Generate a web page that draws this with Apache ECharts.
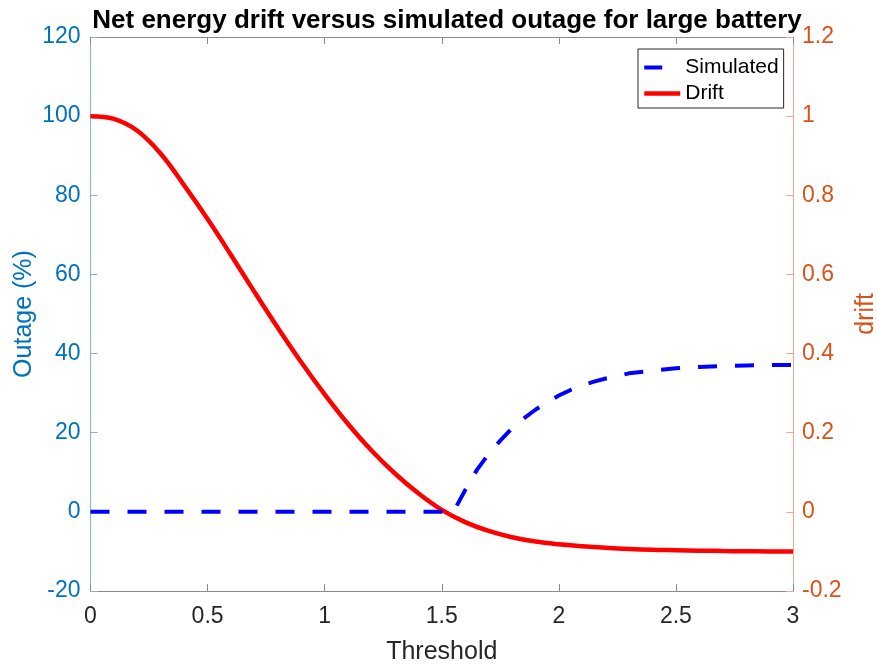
<!DOCTYPE html>
<html>
<head>
<meta charset="utf-8">
<script src="https://cdn.jsdelivr.net/npm/echarts@6/dist/echarts.min.js"></script>
<style>
  html, body { margin: 0; padding: 0; background: #fff; }
  #chart { width: 877px; height: 664px; }
</style>
</head>
<body>
<div id="chart"></div>
<script>
// Threshold grid and net energy drift (right axis)
const driftX = [0, 0.1, 0.2, 0.3, 0.4, 0.5, 0.6, 0.7, 0.8, 0.9, 1.0, 1.1, 1.2, 1.3, 1.4, 1.5,
                1.6, 1.7, 1.8, 1.9, 2.0, 2.1, 2.2, 2.3, 2.4, 2.5, 2.6, 2.7, 2.8, 2.9, 3.0];
const driftY = [1.0, 0.993, 0.963, 0.905, 0.825, 0.740, 0.649, 0.556, 0.465, 0.378, 0.297,
                0.222, 0.155, 0.097, 0.047, 0.005, -0.026, -0.048, -0.064, -0.075, -0.082,
                -0.087, -0.091, -0.094, -0.096, -0.097, -0.098, -0.099, -0.0995, -0.100, -0.100];

// Simulated outage in percent (left axis)
const outageX = [0, 0.5, 1.0, 1.5, 1.55, 1.6, 1.65, 1.7, 1.75, 1.8, 1.85, 1.9, 1.95, 2.0,
                 2.05, 2.1, 2.15, 2.2, 2.3, 2.4, 2.5, 2.6, 2.7, 2.8, 2.9, 3.0];
const outageY = [0, 0, 0, 0, 0, 5.5, 10.6, 14.6, 18.0, 21.1, 23.6, 25.8, 27.7, 29.4,
                 30.8, 32.0, 32.9, 33.7, 35.0, 35.7, 36.3, 36.6, 36.9, 37.0, 37.1, 37.1];

const titleText = 'Net energy drift versus simulated outage for large battery';
const xName = 'Threshold';
const leftName = 'Outage (%)';
const rightName = 'drift';

const FONT = '"Liberation Sans", Arial, Helvetica, sans-serif';
const BLUE_AX = '#0072BD';
const ORANGE_AX = '#D95319';
const DARK = '#262626';

const pairs = (xs, ys) => xs.map((x, i) => [x, ys[i]]);

const chart = echarts.init(document.getElementById('chart'), null, { renderer: 'canvas' });

chart.setOption({
  animation: false,
  backgroundColor: '#ffffff',
  title: {
    text: titleText,
    left: 442, top: 3,
    textAlign: 'center',
    textStyle: { fontFamily: FONT, fontWeight: 'bold', fontSize: 26, color: '#000' }
  },
  grid: { left: 90.5, right: 84, top: 37, bottom: 73, outerBoundsMode: 'none', containLabel: false },
  legend: {
    orient: 'vertical',
    left: 638, top: 49,
    padding: [8, 5, 4, 4],
    itemGap: 5,
    itemWidth: 36, itemHeight: 14,
    borderColor: '#262626', borderWidth: 1,
    backgroundColor: '#fff',
    textStyle: { fontFamily: FONT, fontSize: 21, color: '#000' },
    data: [
      { name: 'Simulated', itemStyle: { opacity: 0 }, lineStyle: { type: [18, 100], width: 4 } },
      { name: 'Drift', itemStyle: { opacity: 0 }, lineStyle: { width: 4.5 } }
    ]
  },
  xAxis: [
    {
      type: 'value', min: 0, max: 3, interval: 0.5, position: 'bottom',
      name: xName, nameLocation: 'middle', nameGap: 49, nameMoveOverlap: false,
      nameTextStyle: { fontFamily: FONT, fontSize: 25, color: DARK },
      axisLine: { show: true, onZero: false, lineStyle: { color: '#8a8a8a', width: 1 } },
      axisTick: { show: true, inside: true, length: 7, lineStyle: { color: '#8a8a8a' } },
      axisLabel: { fontFamily: FONT, fontSize: 23, color: DARK, margin: 14 },
      splitLine: { show: false }
    },
    {
      type: 'value', min: 0, max: 3, interval: 0.5, position: 'top',
      axisLine: { show: true, onZero: false, lineStyle: { color: '#8a8a8a', width: 1 } },
      axisTick: { show: true, inside: true, length: 7, lineStyle: { color: '#8a8a8a' } },
      axisLabel: { show: false },
      splitLine: { show: false }
    }
  ],
  yAxis: [
    {
      type: 'value', min: -20, max: 120, interval: 20, position: 'left',
      name: leftName, nameLocation: 'middle', nameGap: 54, nameRotate: 90, nameMoveOverlap: false,
      nameTextStyle: { fontFamily: FONT, fontSize: 25, color: BLUE_AX },
      axisLine: { show: true, onZero: false, lineStyle: { color: '#7fb4dc', width: 1 } },
      axisTick: { show: true, inside: true, length: 7, lineStyle: { color: '#7fb4dc' } },
      axisLabel: { fontFamily: FONT, fontSize: 23, color: BLUE_AX, margin: 10 },
      splitLine: { show: false }
    },
    {
      type: 'value', min: -0.2, max: 1.2, interval: 0.2, position: 'right',
      name: rightName, nameLocation: 'middle', nameGap: 61, nameRotate: 90, nameMoveOverlap: false,
      nameTextStyle: { fontFamily: FONT, fontSize: 25, color: ORANGE_AX },
      axisLine: { show: true, onZero: false, lineStyle: { color: '#eea98c', width: 1 } },
      axisTick: { show: true, inside: true, length: 7, lineStyle: { color: '#eea98c' } },
      axisLabel: { fontFamily: FONT, fontSize: 23, color: ORANGE_AX, margin: 9 },
      splitLine: { show: false }
    }
  ],
  series: [
    {
      name: 'Simulated', type: 'line', xAxisIndex: 0, yAxisIndex: 0,
      data: pairs(outageX, outageY),
      showSymbol: false, symbol: 'none',
      smooth: false,
      lineStyle: { color: '#0000FF', width: 4, type: [19, 18], cap: 'butt', join: 'round' },
      itemStyle: { color: '#0000FF' },
      z: 3
    },
    {
      name: 'Drift', type: 'line', xAxisIndex: 0, yAxisIndex: 1,
      data: pairs(driftX, driftY),
      showSymbol: false, symbol: 'none',
      smooth: 0.4,
      lineStyle: { color: '#FF0000', width: 4.5 },
      itemStyle: { color: '#FF0000' },
      z: 2
    }
  ]
});
</script>
</body>
</html>
